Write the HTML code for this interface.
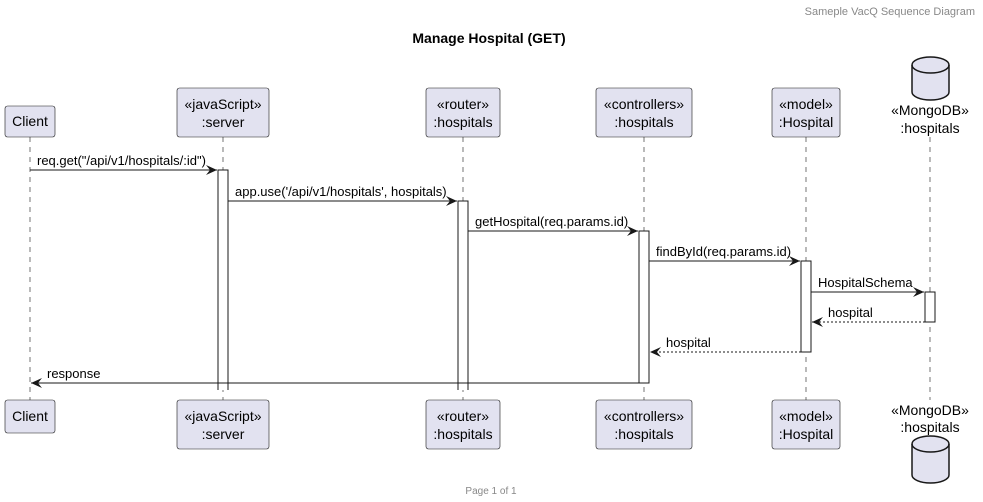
<!DOCTYPE html>
<html><head><meta charset="utf-8"><style>
html,body{margin:0;padding:0;background:#fff;}
svg{display:block;font-family:"Liberation Sans",sans-serif;}
</style></head><body>
<svg width="983" height="502" viewBox="0 0 983 502" xmlns="http://www.w3.org/2000/svg">
<defs>
<marker id="a" markerWidth="12" markerHeight="10" refX="11" refY="5" orient="auto" markerUnits="userSpaceOnUse">
<path d="M0,0 L11,5 L0,10 L4,5 Z" fill="#181818"/></marker>
</defs>
<text x="975" y="15" font-size="11" fill="#888" text-anchor="end">Sameple VacQ Sequence Diagram</text>
<text x="489" y="43" font-size="14" font-weight="bold" text-anchor="middle" fill="#000">Manage Hospital (GET)</text>
<text x="491" y="494" font-size="10" fill="#888" text-anchor="middle">Page 1 of 1</text>

<g stroke="#181818" stroke-width="0.6" stroke-dasharray="5,5">
<line x1="30" y1="137" x2="30" y2="400"/>
<line x1="223" y1="137" x2="223" y2="400"/>
<line x1="463" y1="137" x2="463" y2="400"/>
<line x1="644" y1="137" x2="644" y2="400"/>
<line x1="806" y1="137" x2="806" y2="400"/>
<line x1="930" y1="137" x2="930" y2="400"/>
</g>

<g fill="#E2E2F0" stroke="#181818" stroke-width="0.6">
<rect x="5" y="106" width="50" height="31" rx="2.5"/>
<rect x="177" y="88" width="92" height="49" rx="2.5"/>
<rect x="426" y="88" width="74" height="49" rx="2.5"/>
<rect x="596" y="88" width="96" height="49" rx="2.5"/>
<rect x="772" y="88" width="68" height="49" rx="2.5"/>
<rect x="5" y="400" width="50" height="33" rx="2.5"/>
<rect x="177" y="400" width="92" height="49" rx="2.5"/>
<rect x="426" y="400" width="74" height="49" rx="2.5"/>
<rect x="596" y="400" width="96" height="49" rx="2.5"/>
<rect x="772" y="400" width="68" height="49" rx="2.5"/>
</g>
<g fill="#E2E2F0" stroke="#181818" stroke-width="1.5">
<path d="M912,65 A18.5,8 0 0 1 949,65 L949,92 A18.5,8 0 0 1 912,92 Z"/>
<path d="M912,65 A18.5,8 0 0 0 949,65" fill="none"/>
<path d="M912,444 A18.5,8 0 0 1 949,444 L949,475 A18.5,8 0 0 1 912,475 Z"/>
<path d="M912,444 A18.5,8 0 0 0 949,444" fill="none"/>
</g>

<g font-size="14" fill="#000" text-anchor="middle">
<text x="30" y="126">Client</text>
<text x="223" y="109">«javaScript»</text><text x="223" y="127">:server</text>
<text x="463" y="109">«router»</text><text x="463" y="127">:hospitals</text>
<text x="644" y="109">«controllers»</text><text x="644" y="127">:hospitals</text>
<text x="806" y="109">«model»</text><text x="806" y="127">:Hospital</text>
<text x="930" y="115">«MongoDB»</text><text x="930" y="133">:hospitals</text>
<text x="30" y="421">Client</text>
<text x="223" y="421">«javaScript»</text><text x="223" y="439">:server</text>
<text x="463" y="421">«router»</text><text x="463" y="439">:hospitals</text>
<text x="644" y="421">«controllers»</text><text x="644" y="439">:hospitals</text>
<text x="806" y="421">«model»</text><text x="806" y="439">:Hospital</text>
<text x="930" y="415">«MongoDB»</text><text x="930" y="432">:hospitals</text>
</g>

<g fill="#fff" stroke="#181818" stroke-width="1">
<path d="M218,390 L218,170 L228,170 L228,390"/>
<path d="M458,390 L458,201 L468,201 L468,390"/>
<rect x="639" y="231" width="10" height="152"/>
<rect x="801" y="261" width="10" height="91"/>
<rect x="925" y="292" width="10" height="30"/>
</g>

<g stroke="#181818" stroke-width="1" fill="none">
<line x1="30" y1="170" x2="217" y2="170" marker-end="url(#a)"/>
<line x1="228" y1="201" x2="457" y2="201" marker-end="url(#a)"/>
<line x1="468" y1="231" x2="638" y2="231" marker-end="url(#a)"/>
<line x1="649" y1="261" x2="800" y2="261" marker-end="url(#a)"/>
<line x1="811" y1="292" x2="924" y2="292" marker-end="url(#a)"/>
<line x1="925" y1="322" x2="812" y2="322" stroke-dasharray="2,2" marker-end="url(#a)"/>
<line x1="801" y1="352" x2="650" y2="352" stroke-dasharray="2,2" marker-end="url(#a)"/>
<line x1="639" y1="383" x2="31" y2="383" marker-end="url(#a)"/>
</g>

<g font-size="13" fill="#000">
<text x="37" y="165">req.get("/api/v1/hospitals/:id")</text>
<text x="235" y="196">app.use('/api/v1/hospitals', hospitals)</text>
<text x="475" y="226">getHospital(req.params.id)</text>
<text x="656" y="256">findById(req.params.id)</text>
<text x="818" y="287">HospitalSchema</text>
<text x="828" y="317">hospital</text>
<text x="666" y="347">hospital</text>
<text x="47" y="378">response</text>
</g>
</svg>
</body></html>
